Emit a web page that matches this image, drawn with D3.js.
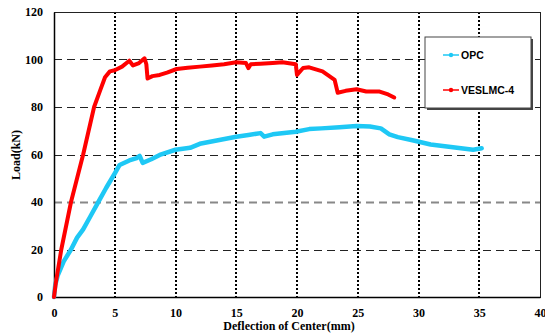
<!DOCTYPE html>
<html>
<head>
<meta charset="utf-8">
<script src="https://cdn.jsdelivr.net/npm/d3@7"></script>
<style>
  body { margin: 0; background: #fff; }
  .tick text { font-family: "Liberation Serif", serif; font-weight: bold; font-size: 12px; }
</style>
</head>
<body>
<div id="chart"></div>
<script>
// deflection (mm) vs load (kN)
var opcPoints = [
  [0,0],[0.1,5],[0.3,9],[0.8,15],[1.4,20],[1.9,25],[2.4,28.5],[3.0,34],[3.7,40.5],
  [4.3,46],[5.0,52],[5.4,55.6],[6.2,57.5],[6.8,58.5],[7.05,59.4],[7.3,56.5],[8,58],
  [8.7,59.8],[10,62],[11.2,62.8],[12,64.5],[13.5,66],[15,67.5],[16,68.2],[17,69],
  [17.3,67.5],[18,68.5],[19.9,69.6],[21,70.7],[22,71],[23.5,71.5],[24.9,72],[26,71.8],
  [26.9,71],[27.6,68.5],[28.3,67.3],[29.5,66],[31,64.2],[32.5,63.3],[34.5,62],[35.2,62.6]
];
var veslmcPoints = [
  [0,0],[0.15,6],[0.6,20],[1.0,30],[1.4,40],[1.9,50],[2.4,60],[2.85,70],[3.3,80],
  [3.8,87],[4.2,92.5],[4.6,95],[5.0,95.5],[5.6,97],[6.2,99.5],[6.5,97.5],[7.0,98.5],
  [7.45,100.5],[7.6,98],[7.7,92],[8.1,93],[8.7,93.5],[9.3,94.5],[10.1,96],[11,96.5],
  [12,97],[13,97.5],[14,98],[15,98.8],[15.8,98.5],[16,96.4],[16.2,98],[17,98.2],
  [18,98.5],[18.8,98.8],[19.9,98],[20,93.5],[20.5,96.4],[21,96.7],[22.1,95],[23.1,91.4],
  [23.35,86],[24,86.8],[24.9,87.5],[25.7,86.5],[26.8,86.5],[27.5,85.3],[28,84]
];
var seriesNames = ["OPC", "VESLMC-4"];
var seriesColors = ["#1ec8f5", "#ff0000"];
var xTicks = [0, 5, 10, 15, 20, 25, 30, 35, 40];
var yTicks = [0, 20, 40, 60, 80, 100, 120];

var width = 545, height = 334;
var margin = { top: 12, right: 5, bottom: 37, left: 54 };
var w = width - margin.left - margin.right,
    h = height - margin.top - margin.bottom;

var svg = d3.select("#chart").append("svg")
  .attr("width", width).attr("height", height);
var g = svg.append("g")
  .attr("transform", "translate(" + margin.left + "," + margin.top + ")");

var x = d3.scaleLinear().domain([0, 40]).range([0, w]);
var y = d3.scaleLinear().domain([0, 120]).range([h, 0]);

// horizontal dashed grid
g.selectAll(".hgrid").data(yTicks.filter(function (d) { return d > 0 && d < 120; }))
  .enter().append("line")
  .attr("x1", 0).attr("x2", w)
  .attr("y1", function (d) { return Math.round(y(d)) + 0.5; })
  .attr("y2", function (d) { return Math.round(y(d)) + 0.5; })
  .attr("stroke", function (d) { return d == 40 ? "#888" : "#222"; })
  .attr("stroke-width", function (d) { return d == 40 ? 2 : 1; })
  .attr("stroke-dasharray", "8,5");

// vertical dotted grid
g.selectAll(".vgrid").data(xTicks.filter(function (d) { return d > 0 && d < 40; }))
  .enter().append("line")
  .attr("y1", 0).attr("y2", h)
  .attr("x1", function (d) { return Math.round(x(d)); })
  .attr("x2", function (d) { return Math.round(x(d)); })
  .attr("stroke", "#000")
  .attr("stroke-width", 2)
  .attr("stroke-dasharray", "2,2")
  .attr("shape-rendering", "crispEdges");

// frame
g.append("rect").attr("x", 0.5).attr("y", 0.5).attr("width", w).attr("height", h)
  .attr("fill", "none").attr("stroke", "#222").attr("stroke-width", 1);

var xAxis = g.append("g").attr("transform", "translate(0," + h + ")")
  .call(d3.axisBottom(x).tickValues(xTicks).tickSize(0).tickPadding(11));
var yAxis = g.append("g")
  .call(d3.axisLeft(y).tickValues(yTicks).tickSize(0).tickPadding(11));
xAxis.select(".domain").attr("stroke", "#000").attr("stroke-width", 1.5);
yAxis.select(".domain").attr("stroke", "#000").attr("stroke-width", 1.5);
g.selectAll(".tick text").attr("fill", "#000");

var line = d3.line()
  .x(function (d) { return x(d[0]); })
  .y(function (d) { return y(d[1]); });

[opcPoints, veslmcPoints].forEach(function (pts, i) {
  g.append("path").datum(pts)
    .attr("d", line)
    .attr("fill", "none")
    .attr("stroke", seriesColors[i])
    .attr("stroke-width", i == 0 ? 4.5 : 4)
    .attr("stroke-linejoin", "round")
    .attr("stroke-linecap", "round");
});

// axis titles
svg.append("text")
  .attr("x", 289).attr("y", 330)
  .attr("text-anchor", "middle")
  .style("font-family", "Liberation Serif, serif")
  .style("font-weight", "bold").style("font-size", "12px")
  .text("Deflection of Center(mm)");
svg.append("text")
  .attr("transform", "translate(20,155) rotate(-90)")
  .attr("text-anchor", "middle")
  .style("font-family", "Liberation Serif, serif")
  .style("font-weight", "bold").style("font-size", "12px")
  .text("Load(kN)");

// legend
var lg = svg.append("g").attr("transform", "translate(425,37)");
lg.append("rect").attr("x", 2).attr("y", 2).attr("width", 106).attr("height", 71)
  .attr("fill", "#444");
lg.append("rect").attr("width", 106).attr("height", 71)
  .attr("fill", "#fff").attr("stroke", "#444").attr("stroke-width", 1);
seriesNames.forEach(function (name, i) {
  var ly = 18 + i * 35;
  lg.append("line").attr("x1", 18).attr("x2", 34).attr("y1", ly).attr("y2", ly)
    .attr("stroke", seriesColors[i]).attr("stroke-width", 1.5);
  lg.append("circle").attr("cx", 26).attr("cy", ly).attr("r", 2.2)
    .attr("fill", seriesColors[i]);
  lg.append("text").attr("x", 36).attr("y", ly + 4)
    .style("font-family", "Liberation Sans, Arial, sans-serif")
    .style("font-weight", "bold").style("font-size", "10.5px")
    .text(name);
});
</script>
</body>
</html>
